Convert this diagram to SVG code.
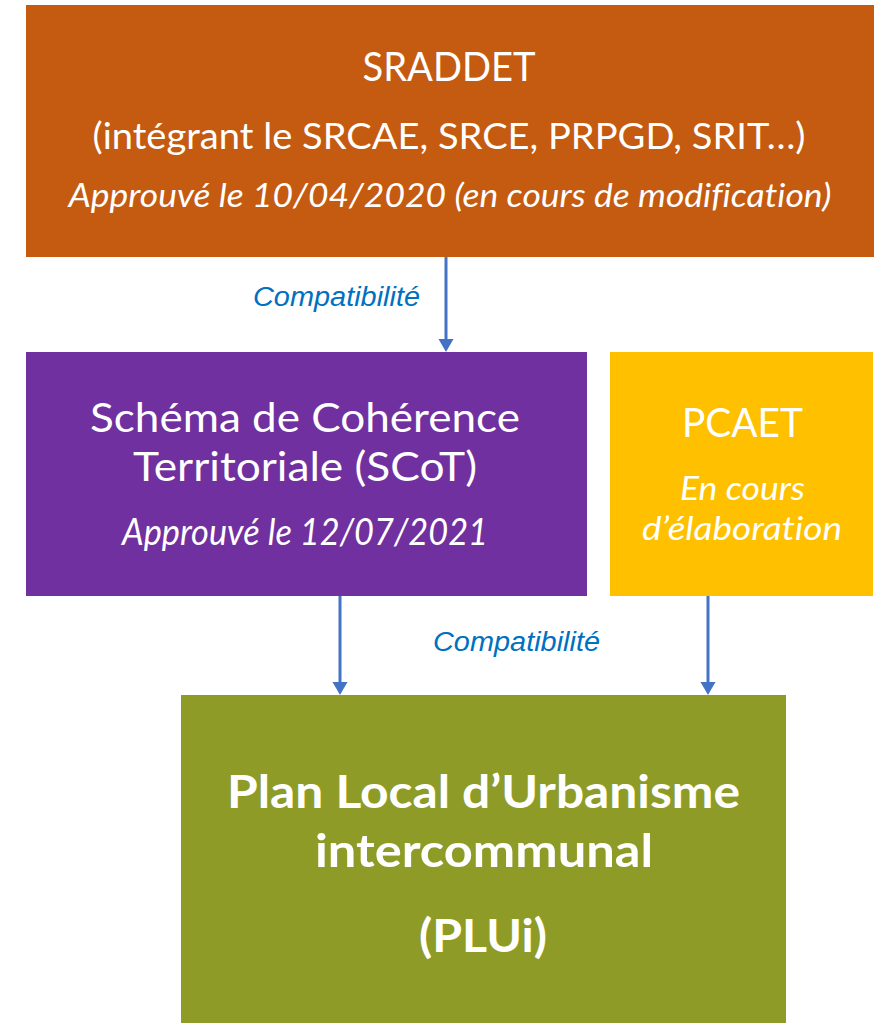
<svg xmlns="http://www.w3.org/2000/svg" width="881" height="1023" viewBox="0 0 881 1023">
<style>
.t{font-family:Lato,"Open Sans","Liberation Sans",sans-serif;fill:#fff;text-anchor:middle;font-variant-ligatures:none}
.i{font-style:italic}
.b{font-weight:bold}
.lbl{font-family:"Liberation Sans",Arial,sans-serif;font-style:italic;fill:#0070C0;font-size:27px;text-anchor:middle}
.c{stroke:#4472C4;stroke-width:3;fill:none}
</style>
<defs>
<marker id="ah" markerUnits="userSpaceOnUse" markerWidth="16" markerHeight="16" refX="0" refY="8" orient="auto" viewBox="0 0 16 16">
<path d="M0,0.5 L13,8 L0,15.5 z" fill="#4472C4"/>
</marker>
</defs>
<rect width="881" height="1023" fill="#fff"/>
<g id="sraddet">
<rect x="26" y="5" width="848" height="252" fill="#C55A11"/>
<text class="t" x="449" y="81" font-size="40" textLength="173" lengthAdjust="spacingAndGlyphs">SRADDET</text>
<text class="t" x="449" y="149" font-size="37" textLength="713" lengthAdjust="spacingAndGlyphs">(intégrant le SRCAE, SRCE, PRPGD, SRIT…)</text>
<text class="t i" x="450" y="207" font-size="32" textLength="763" lengthAdjust="spacingAndGlyphs">Approuvé le 10/04/2020 (en cours de modification)</text>
</g>
<g id="scot">
<rect x="26" y="352" width="561" height="244" fill="#7030A0"/>
<text class="t" x="305" y="432" font-size="41" textLength="430" lengthAdjust="spacingAndGlyphs">Schéma de Cohérence</text>
<text class="t" x="305" y="481" font-size="41" textLength="344" lengthAdjust="spacingAndGlyphs">Territoriale (SCoT)</text>
<text class="t i" x="305" y="545" font-size="36" textLength="366" lengthAdjust="spacingAndGlyphs">Approuvé le 12/07/2021</text>
</g>
<g id="pcaet">
<rect x="610" y="352" width="263" height="244" fill="#FFC000"/>
<text class="t" x="742.5" y="437" font-size="41" textLength="121" lengthAdjust="spacingAndGlyphs">PCAET</text>
<text class="t i" x="742.5" y="500" font-size="32" textLength="125" lengthAdjust="spacingAndGlyphs">En cours</text>
<text class="t i" x="742" y="540" font-size="32" textLength="200" lengthAdjust="spacingAndGlyphs">d’élaboration</text>
</g>
<g id="plui">
<rect x="181" y="695" width="605" height="328" fill="#8F9B27"/>
<text class="t b" x="483.5" y="808" font-size="46" textLength="513" lengthAdjust="spacingAndGlyphs">Plan Local d’Urbanisme</text>
<text class="t b" x="484" y="867" font-size="46" textLength="338" lengthAdjust="spacingAndGlyphs">intercommunal</text>
<text class="t b" x="483" y="952" font-size="46" textLength="128" lengthAdjust="spacingAndGlyphs">(PLUi)</text>
</g>
<g id="connectors">
<path class="c" d="M446,257 V339" marker-end="url(#ah)"/>
<path class="c" d="M340,596 V682" marker-end="url(#ah)"/>
<path class="c" d="M708,596 V682" marker-end="url(#ah)"/>
<text class="lbl" x="336.5" y="306" textLength="167" lengthAdjust="spacingAndGlyphs">Compatibilité</text>
<text class="lbl" x="516.5" y="651" textLength="167" lengthAdjust="spacingAndGlyphs">Compatibilité</text>
</g>
</svg>
